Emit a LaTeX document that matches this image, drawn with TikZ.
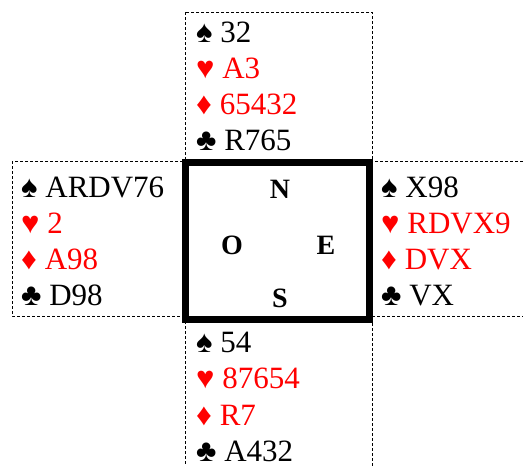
\documentclass[tikz,border=0pt]{standalone}
\usepackage{fontspec}
\setmainfont{Liberation Serif}
\usepackage{xcolor}
\usetikzlibrary{positioning}

% suit symbols
\newcommand{\pique}{♠}
\newcommand{\coeur}{♥}
\newcommand{\carreau}{♦}
\newcommand{\trefle}{♣}

\begin{document}
\begin{tikzpicture}[
    x=1pt, y=-1pt,
    card/.style={anchor=base west, inner sep=0pt, font=\fontsize{31}{36}\selectfont},
    seat/.style={inner sep=0pt, font=\fontsize{28}{32}\selectfont\bfseries},
    handbox/.style={draw, line width=1pt, dash pattern=on 3pt off 2pt}
  ]
  \clip (0,0) rectangle (523,466);

  % Dashed boxes round the hands
  \draw[handbox] (185,12) rectangle (372,162);
  \draw[handbox] (12,161) rectangle (185,316);
  \draw[handbox] (372,161) rectangle (540,316);
  \draw[handbox] (185,316) rectangle (372,480);

  % Table
  \draw[line width=7pt] (185,162) rectangle (369.5,319.5);
  \node[seat] (n) at (280,189) {N};
  \node[seat] (o) at (232,245) {O};
  \node[seat] (e) at (326,245) {E};
  \node[seat] (s) at (280,298) {S};

  % North
  \foreach \s/\c/\t [count=\i from 0] in {\pique/black/32, \coeur/red/A3, \carreau/red/65432, \trefle/black/R765}
    \node[card, text=\c] (nord-\i) at (196,42+36*\i) {\s\ \t};

  % West
  \foreach \s/\c/\t [count=\i from 0] in {\pique/black/ARDV76, \coeur/red/2, \carreau/red/A98, \trefle/black/D98}
    \node[card, text=\c] (ouest-\i) at (21,197+36*\i) {\s\ \t};

  % East
  \foreach \s/\c/\t [count=\i from 0] in {\pique/black/X98, \coeur/red/RDVX9, \carreau/red/DVX, \trefle/black/VX}
    \node[card, text=\c] (est-\i) at (381,197+36*\i) {\s\ \t};

  % South
  \foreach \s/\c/\t [count=\i from 0] in {\pique/black/54, \coeur/red/87654, \carreau/red/R7, \trefle/black/A432}
    \node[card, text=\c] (sud-\i) at (196,352+36.5*\i) {\s\ \t};

\end{tikzpicture}
\end{document}
